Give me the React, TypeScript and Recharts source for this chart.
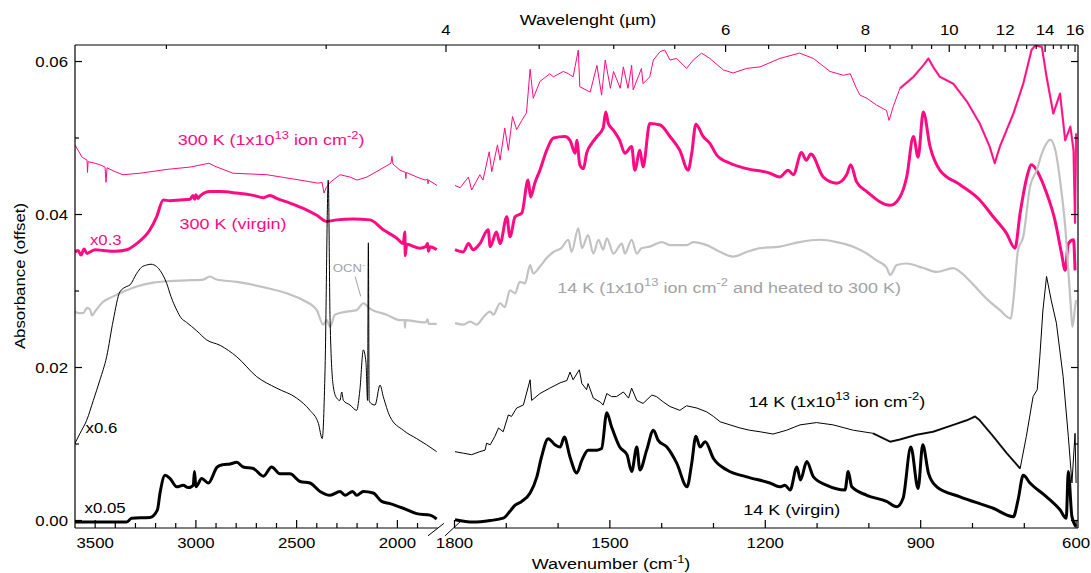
import React from "react";
import { LineChart, Line, XAxis, YAxis, ReferenceLine, ReferenceDot } from "recharts";

const FONT = "'Liberation Sans', Arial, Helvetica, sans-serif";
const PINK = "#ff0a82";
const GRAY = "#c2c2c2";
const GRAY_TEXT = "#a3a3a3";
const INK = "#000";
const SX = 1.2; // the original lettering is set wide

const W = 1091;
const H = 573;
const PLOT = { left: 75, right: 1078, top: 45, bottom: 528 };

const Y_DOMAIN = [-0.00098, 0.06216];
const L_DOMAIN = [-1378, 3600]; // left panel, 3600-1800 cm-1
const R_DOMAIN = [596.3, 2532.6]; // right panel, 1800-600 cm-1
const TOP_DOMAIN = [616.2, 3605.8];

// ticks
const Y_TICKS = [0, 0.01, 0.02, 0.03, 0.04, 0.05, 0.06];
const Y_LABELS = [0, 0.02, 0.04, 0.06];
const L_TICKS = [3500, 3400, 3300, 3200, 3100, 3000, 2900, 2800, 2700, 2600, 2500, 2400, 2300, 2200, 2100, 2000, 1900];
const L_LABELS = [3500, 3000, 2500, 2000];
const R_TICKS = [1800, 1700, 1600, 1500, 1400, 1300, 1200, 1100, 1000, 900, 800, 700, 600];
const R_LABELS = [1800, 1500, 1200, 900, 600];
const WAVELENGTHS = [3, 3.5, 4, 4.5, 5, 5.5, 6, 6.5, 7, 7.5, 8, 8.5, 9, 9.5, 10, 10.5, 11, 11.5, 12, 12.5, 13, 13.5, 14, 14.5, 15, 15.5, 16];
const WL_LABELS = [4, 6, 8, 10, 12, 14, 16];

// spectra: [wavenumber cm-1, absorbance offset]
const PINK_IRR_L = [
  [3600, 0.0491], [3585, 0.0484], [3565, 0.0475], [3540, 0.0471], [3538, 0.0455], [3535, 0.0469], [3500, 0.0467],
  [3476, 0.0465], [3451, 0.0462], [3446, 0.0442], [3441, 0.0461], [3401, 0.0456], [3362, 0.0452], [3277, 0.0454],
  [3143, 0.0459], [3029, 0.0462], [2935, 0.0467], [2905, 0.0463], [2816, 0.0454], [2647, 0.0452], [2483, 0.0445],
  [2394, 0.0441], [2374, 0.0442], [2364, 0.0428], [2354, 0.0435], [2334, 0.0442], [2285, 0.0452], [2235, 0.0449],
  [2200, 0.0445], [2151, 0.0449], [2071, 0.0461], [2032, 0.0467], [2027, 0.0476], [2022, 0.0466], [1987, 0.0458],
  [1960, 0.0455], [1958, 0.0447], [1956, 0.0455], [1903, 0.0449], [1863, 0.0445], [1850, 0.0446], [1848, 0.044],
  [1846, 0.0445], [1803, 0.0438],
];
const PINK_IRR_R = [
  [1799, 0.0438], [1789, 0.0435], [1773, 0.0449], [1767, 0.0432], [1751, 0.0452], [1745, 0.0445], [1733, 0.0482],
  [1728, 0.0456], [1717, 0.0491], [1712, 0.0471], [1703, 0.0513], [1696, 0.0484], [1688, 0.0528], [1680, 0.0511],
  [1670, 0.0523], [1661, 0.0533], [1654, 0.059], [1648, 0.0552], [1635, 0.0574], [1616, 0.0584], [1609, 0.058],
  [1590, 0.0587], [1580, 0.0584], [1571, 0.058], [1561, 0.0615], [1558, 0.0567], [1538, 0.056], [1525, 0.0595],
  [1516, 0.0556], [1509, 0.0602], [1499, 0.0565], [1493, 0.0587], [1480, 0.0565], [1474, 0.0593], [1465, 0.0565],
  [1458, 0.0595], [1455, 0.0563], [1439, 0.0591], [1436, 0.0571], [1423, 0.058], [1416, 0.0602], [1403, 0.0613],
  [1394, 0.0615], [1384, 0.0602], [1371, 0.0604], [1352, 0.0591], [1339, 0.0602], [1323, 0.0611], [1307, 0.0604],
  [1281, 0.0589], [1262, 0.0585], [1236, 0.0591], [1210, 0.0593], [1172, 0.0604], [1134, 0.0611], [1107, 0.0604],
  [1075, 0.0587], [1049, 0.0582], [1036, 0.0584], [1024, 0.0565], [1017, 0.0556], [1004, 0.0552], [985, 0.0543],
  [966, 0.0536], [961, 0.0523], [953, 0.0541], [940, 0.0565], [914, 0.058], [895, 0.0595], [885, 0.0604],
  [876, 0.0593], [863, 0.058], [837, 0.0571], [811, 0.0548], [786, 0.0519], [767, 0.0489], [757, 0.0467],
  [747, 0.0489], [721, 0.0532], [702, 0.0571], [686, 0.0615], [679, 0.0621], [666, 0.0619], [657, 0.058],
  [644, 0.0532], [631, 0.0558], [621, 0.0497], [611, 0.0515], [605, 0.0484], [602, 0.0389], [600, 0.0506],
];

const PINK_VIR_L = [
  [3600, 0.0351], [3585, 0.0353], [3570, 0.0347], [3555, 0.0355], [3540, 0.0349], [3526, 0.0351], [3500, 0.0354],
  [3460, 0.0353], [3400, 0.0352], [3343, 0.0354], [3294, 0.0362], [3228, 0.038], [3195, 0.0397], [3162, 0.0419],
  [3129, 0.0418], [3079, 0.0419], [3029, 0.042], [3014, 0.0425], [3006, 0.042], [3000, 0.0426], [2990, 0.0421],
  [2980, 0.0424], [2930, 0.043], [2880, 0.043], [2797, 0.0428], [2715, 0.0425], [2665, 0.0422], [2632, 0.0425],
  [2599, 0.0421], [2533, 0.0415], [2467, 0.0408], [2400, 0.0399], [2351, 0.0391], [2301, 0.0393], [2219, 0.0394],
  [2136, 0.0393], [2070, 0.038], [2003, 0.0369], [1971, 0.0362], [1963, 0.0377], [1961, 0.0346], [1954, 0.0361],
  [1888, 0.0356], [1860, 0.0358], [1850, 0.0362], [1846, 0.0352], [1838, 0.0358], [1805, 0.0354],
];
const PINK_VIR_R = [
  [1799, 0.0354], [1783, 0.0351], [1773, 0.0362], [1764, 0.0354], [1751, 0.0362], [1735, 0.038], [1731, 0.0358],
  [1719, 0.0377], [1712, 0.0362], [1699, 0.0397], [1693, 0.0371], [1683, 0.0397], [1670, 0.0402], [1658, 0.0445],
  [1653, 0.0423], [1645, 0.0441], [1635, 0.0458], [1622, 0.0484], [1609, 0.05], [1587, 0.0502], [1577, 0.0497],
  [1567, 0.048], [1564, 0.0497], [1558, 0.0465], [1551, 0.046], [1545, 0.048], [1535, 0.0493], [1525, 0.0502],
  [1513, 0.0513], [1508, 0.0534], [1503, 0.0519], [1493, 0.051], [1481, 0.0497], [1471, 0.048], [1458, 0.0489],
  [1452, 0.0458], [1442, 0.0484], [1436, 0.0462], [1423, 0.0519], [1403, 0.0517], [1384, 0.0502], [1365, 0.0484],
  [1349, 0.0458], [1342, 0.048], [1334, 0.0518], [1320, 0.0502], [1307, 0.0493], [1294, 0.0478], [1268, 0.0467],
  [1236, 0.046], [1191, 0.0454], [1172, 0.0449], [1156, 0.0458], [1146, 0.0452], [1130, 0.0481], [1121, 0.0471],
  [1112, 0.0479], [1088, 0.0449], [1062, 0.0441], [1043, 0.0452], [1035, 0.0465], [1024, 0.0443], [1004, 0.043],
  [959, 0.0412], [940, 0.0423], [927, 0.0449], [914, 0.0502], [905, 0.0475], [895, 0.0534], [882, 0.0489],
  [863, 0.0458], [824, 0.0439], [786, 0.0419], [760, 0.0397], [734, 0.0375], [718, 0.0356], [708, 0.0402],
  [695, 0.0449], [686, 0.0465], [673, 0.0454], [657, 0.0428], [641, 0.0393], [628, 0.0349], [621, 0.0327],
  [615, 0.0362], [605, 0.0367], [602, 0.0327],
];

const GRAY_L = [
  [3600, 0.0273], [3580, 0.0271], [3559, 0.0271], [3540, 0.0278], [3526, 0.0276], [3515, 0.0268], [3501, 0.0273],
  [3460, 0.0286], [3410, 0.0293], [3360, 0.0299], [3294, 0.0306], [3211, 0.0311], [3129, 0.0313], [3046, 0.0314],
  [2963, 0.0315], [2930, 0.0319], [2897, 0.0315], [2797, 0.0312], [2715, 0.0308], [2632, 0.0303], [2549, 0.0297],
  [2467, 0.0288], [2400, 0.0275], [2368, 0.0256], [2351, 0.0262], [2334, 0.0253], [2310, 0.0269], [2252, 0.0273],
  [2202, 0.0275], [2169, 0.0284], [2136, 0.0277], [2053, 0.0269], [1987, 0.0262], [1964, 0.0262], [1962, 0.0252],
  [1960, 0.0262], [1904, 0.026], [1860, 0.0259], [1850, 0.0263], [1845, 0.0257], [1805, 0.0257],
];
const GRAY_R = [
  [1799, 0.0258], [1783, 0.0256], [1770, 0.026], [1757, 0.0256], [1744, 0.0266], [1731, 0.0273], [1725, 0.0269],
  [1712, 0.0284], [1703, 0.0279], [1693, 0.0301], [1683, 0.0297], [1674, 0.0312], [1664, 0.031], [1654, 0.0334],
  [1648, 0.0323], [1635, 0.0332], [1622, 0.0343], [1609, 0.0351], [1594, 0.0356], [1580, 0.0367], [1574, 0.0351],
  [1561, 0.0382], [1554, 0.0356], [1542, 0.0373], [1532, 0.0349], [1522, 0.0367], [1513, 0.0354], [1506, 0.0369],
  [1493, 0.0349], [1477, 0.0362], [1471, 0.0349], [1458, 0.0367], [1448, 0.0349], [1439, 0.0356], [1423, 0.0358],
  [1400, 0.0364], [1384, 0.036], [1352, 0.036], [1339, 0.0364], [1313, 0.036], [1287, 0.0351], [1262, 0.0345],
  [1236, 0.0351], [1210, 0.0356], [1172, 0.0358], [1134, 0.0364], [1095, 0.0367], [1062, 0.0364], [1030, 0.0358],
  [1004, 0.0349], [985, 0.034], [966, 0.0331], [959, 0.0321], [946, 0.0334], [927, 0.0336], [895, 0.033],
  [869, 0.0325], [837, 0.033], [824, 0.0325], [798, 0.0308], [773, 0.029], [747, 0.0275], [726, 0.0264],
  [721, 0.0288], [712, 0.0354], [702, 0.0371], [689, 0.0436], [676, 0.0458], [666, 0.048], [657, 0.0493],
  [650, 0.0498], [640, 0.0484], [631, 0.0445], [621, 0.0384], [615, 0.0327], [611, 0.0288], [607, 0.0253],
  [602, 0.0279], [600, 0.0288],
];

const BLK_IRR_L = [
  [3600, 0.0101], [3575, 0.0114], [3542, 0.0131], [3509, 0.0157], [3476, 0.0184], [3443, 0.0214], [3410, 0.0262],
  [3377, 0.0299], [3343, 0.0306], [3327, 0.0308], [3294, 0.0323], [3270, 0.0331], [3244, 0.0334], [3223, 0.0335],
  [3195, 0.0332], [3173, 0.0325], [3145, 0.031], [3124, 0.0293], [3095, 0.0275], [3074, 0.0265], [3046, 0.0259],
  [2996, 0.0248], [2946, 0.0236], [2880, 0.0229], [2797, 0.0214], [2698, 0.0188], [2599, 0.0173], [2500, 0.016],
  [2434, 0.0144], [2392, 0.0127], [2373, 0.0107], [2359, 0.0197], [2343, 0.0445], [2334, 0.0262], [2318, 0.0175],
  [2301, 0.016], [2285, 0.0157], [2276, 0.0168], [2268, 0.0157], [2235, 0.0151], [2202, 0.0144], [2186, 0.0171],
  [2169, 0.0223], [2156, 0.0207], [2148, 0.0157], [2144, 0.0363], [2140, 0.0157], [2131, 0.0153], [2111, 0.0151],
  [2086, 0.0177], [2070, 0.0162], [2037, 0.0136], [1971, 0.0118], [1904, 0.0107], [1855, 0.0099], [1805, 0.009],
];
const BLK_IRR_R = [
  [1799, 0.009], [1783, 0.0088], [1767, 0.0086], [1751, 0.009], [1741, 0.0092], [1738, 0.0101], [1731, 0.0099],
  [1722, 0.011], [1715, 0.0121], [1706, 0.0116], [1696, 0.0138], [1690, 0.0136], [1680, 0.0147], [1667, 0.0151],
  [1654, 0.0184], [1651, 0.0157], [1635, 0.0166], [1616, 0.0173], [1596, 0.018], [1583, 0.0183], [1577, 0.0194],
  [1571, 0.0184], [1559, 0.0197], [1554, 0.0179], [1545, 0.0171], [1542, 0.0179], [1532, 0.016], [1519, 0.0155],
  [1513, 0.0151], [1506, 0.0166], [1497, 0.0162], [1487, 0.0162], [1474, 0.0168], [1464, 0.016], [1458, 0.0173],
  [1448, 0.0157], [1436, 0.0153], [1419, 0.0164], [1410, 0.0162], [1397, 0.0155], [1384, 0.0149], [1365, 0.0144],
  [1352, 0.015], [1332, 0.0147], [1313, 0.0142], [1300, 0.0136], [1287, 0.0129], [1268, 0.0125], [1249, 0.0121],
  [1230, 0.0118], [1210, 0.0116], [1185, 0.0113], [1159, 0.0118], [1133, 0.0125], [1101, 0.0128], [1069, 0.0125],
  [1030, 0.0118], [992, 0.0114], [959, 0.0103], [940, 0.0106], [908, 0.0112], [876, 0.0116], [837, 0.0125],
  [811, 0.0131], [795, 0.0136], [786, 0.0131], [760, 0.011], [734, 0.0088], [708, 0.0068], [696, 0.011],
  [683, 0.0162], [675, 0.0171], [670, 0.0214], [664, 0.0275], [657, 0.0319], [648, 0.0288], [638, 0.0258],
  [625, 0.0188], [615, 0.011], [608, 0.0049], [602, 0.0114], [600, 0.0049],
];

const BLK_VIR_L = [
  [3600, -0.0002], [3343, -0.0002], [3319, 0.0003], [3228, 0.0004], [3191, 0.0014], [3178, 0.0036], [3153, 0.0059],
  [3129, 0.0055], [3095, 0.0044], [3063, 0.0046], [3038, 0.0043], [3013, 0.0046], [3007, 0.0064], [3000, 0.0044],
  [2971, 0.0055], [2938, 0.0049], [2894, 0.007], [2864, 0.0073], [2831, 0.0074], [2797, 0.0076], [2765, 0.007],
  [2715, 0.0068], [2665, 0.0058], [2624, 0.007], [2583, 0.0061], [2533, 0.0061], [2483, 0.0051], [2434, 0.0049],
  [2384, 0.0038], [2334, 0.0033], [2285, 0.0038], [2260, 0.0033], [2222, 0.0038], [2202, 0.0033], [2169, 0.0038],
  [2120, 0.0036], [2078, 0.0025], [2037, 0.0022], [1971, 0.0016], [1904, 0.0009], [1838, 0.0007], [1805, 0.0002],
];
const BLK_VIR_R = [
  [1799, 0.0001], [1764, -0.0002], [1731, 0.0], [1706, 0.0003], [1693, 0.0012], [1683, 0.002], [1670, 0.0025],
  [1654, 0.0036], [1641, 0.0057], [1632, 0.0083], [1619, 0.0107], [1606, 0.0099], [1596, 0.0096], [1588, 0.0109],
  [1577, 0.0083], [1564, 0.0062], [1554, 0.0079], [1542, 0.0092], [1525, 0.0092], [1516, 0.0094], [1506, 0.0141],
  [1497, 0.0123], [1481, 0.0096], [1467, 0.0086], [1458, 0.0064], [1448, 0.0096], [1442, 0.0066], [1429, 0.0092],
  [1416, 0.0118], [1407, 0.0105], [1390, 0.0096], [1371, 0.0075], [1351, 0.0044], [1342, 0.0075], [1334, 0.011],
  [1326, 0.0096], [1316, 0.0103], [1300, 0.0081], [1274, 0.0066], [1236, 0.0057], [1191, 0.0049], [1172, 0.0044],
  [1162, 0.0046], [1152, 0.004], [1139, 0.007], [1132, 0.0053], [1120, 0.0077], [1107, 0.0057], [1081, 0.0046],
  [1046, 0.004], [1040, 0.0064], [1033, 0.0044], [1004, 0.0033], [966, 0.0025], [946, 0.0018], [934, 0.0029],
  [919, 0.0096], [905, 0.0042], [896, 0.0099], [885, 0.0062], [869, 0.0044], [824, 0.0031], [760, 0.0016],
  [721, 0.0005], [712, 0.0027], [702, 0.0059], [689, 0.0049], [657, 0.0031], [631, 0.0014], [619, 0.0003],
  [615, 0.0064], [608, 0.0005], [600, -0.0008],
];

// band: wavenumber range where the trace is a wide noisy band in the original
const SERIES = [
  { id: "pinkIrrL", axis: "L", pts: PINK_IRR_L, color: PINK, w: 1, curve: "linear" },
  { id: "pinkIrrR", axis: "R", pts: PINK_IRR_R, color: PINK, w: 1, curve: "linear", band: [600, 950], bandW: 2.2 },
  { id: "pinkVirL", axis: "L", pts: PINK_VIR_L, color: PINK, w: 3, curve: "monotoneX" },
  { id: "pinkVirR", axis: "R", pts: PINK_VIR_R, color: PINK, w: 3, curve: "monotoneX" },
  { id: "grayL", axis: "L", pts: GRAY_L, color: GRAY, w: 2.2, curve: "monotoneX" },
  { id: "grayR", axis: "R", pts: GRAY_R, color: GRAY, w: 2.2, curve: "monotoneX" },
  { id: "blkIrrL", axis: "L", pts: BLK_IRR_L, color: INK, w: 1, curve: "monotoneX" },
  { id: "blkIrrR", axis: "R", pts: BLK_IRR_R, color: INK, w: 1, curve: "linear", band: [700, 1000], bandW: 2 },
  { id: "blkVirL", axis: "L", pts: BLK_VIR_L, color: INK, w: 3, curve: "monotoneX" },
  { id: "blkVirR", axis: "R", pts: BLK_VIR_R, color: INK, w: 3, curve: "monotoneX" },
];

// curve labels: baseline centre in data units
const NOTES = [
  { axis: "L", nu: 2627, a: 0.0491, color: PINK, size: 15, parts: ["300 K  (1x10", "13", " ion cm", "-2", ")"] },
  { axis: "L", nu: 2816, a: 0.0381, color: PINK, size: 15, parts: ["300 K (virgin)"] },
  { axis: "L", nu: 3447, a: 0.036, color: PINK, size: 14, parts: ["x0.3"] },
  { axis: "L", nu: 2240, a: 0.0325, color: GRAY_TEXT, size: 11, parts: ["OCN", "-"] },
  { axis: "L", nu: 3469, a: 0.0114, color: INK, size: 14, parts: ["x0.6"] },
  { axis: "L", nu: 3451, a: 0.00094, color: INK, size: 14, parts: ["x0.05"] },
  { axis: "R", nu: 1270, a: 0.0298, color: GRAY_TEXT, size: 15, parts: ["14 K (1x10", "13", " ion cm", "-2", " and heated to 300 K)"] },
  { axis: "R", nu: 1062, a: 0.0149, color: INK, size: 15, parts: ["14 K (1x10", "13", " ion cm", "-2", ")"] },
  { axis: "R", nu: 1149, a: 0.0007, color: INK, size: 15, parts: ["14 K (virgin)"] },
];

const rows = (pts: number[][]) => pts.map(([nu, a]) => ({ nu, a }));

const WideText = ({ x, y, size = 14, fill = INK, anchor = "middle", rotate = 0, children }: any) => (
  <text
    transform={`translate(${x},${y}) rotate(${rotate}) scale(${SX},1)`}
    x={0}
    y={0}
    textAnchor={anchor}
    fontSize={size}
    fontFamily={FONT}
    fill={fill}
  >
    {children}
  </text>
);

// odd parts are superscripts
const Rich = ({ parts, size }: { parts: string[]; size: number }) => (
  <>
    {parts.map((t, i) => {
      const sup = i % 2 === 1;
      const dy = i === 0 ? 0 : sup ? -0.42 * size : 0.42 * size;
      return (
        <tspan key={i} dy={dy} fontSize={sup ? size * 0.72 : size}>
          {t}
        </tspan>
      );
    })}
  </>
);

const LeftTick = (p: any) => {
  const y = p.payload.coordinate;
  const v = p.payload.value;
  const major = Y_LABELS.includes(v);
  return (
    <g>
      <line x1={PLOT.left} x2={PLOT.left + (major ? 7 : 4)} y1={y} y2={y} stroke={INK} strokeWidth={1.2} />
      {major && (
        <WideText x={PLOT.left - 7} y={y + 5} anchor="end" size={14}>
          {v.toFixed(2)}
        </WideText>
      )}
    </g>
  );
};

const RightTick = (p: any) => {
  const y = p.payload.coordinate;
  const major = Y_LABELS.includes(p.payload.value);
  return <line x1={PLOT.right} x2={PLOT.right - (major ? 7 : 4)} y1={y} y2={y} stroke={INK} strokeWidth={1.2} />;
};

const bottomTick = (labels: number[]) => (p: any) => {
  const x = p.payload.coordinate;
  const major = labels.includes(p.payload.value);
  return (
    <g>
      <line x1={x} x2={x} y1={PLOT.bottom} y2={PLOT.bottom - (major ? 8 : 5)} stroke={INK} strokeWidth={1.2} />
      {major && (
        <WideText x={x} y={PLOT.bottom + 20} size={14}>
          {p.payload.value}
        </WideText>
      )}
    </g>
  );
};

const TopTick = (p: any) => {
  const x = p.payload.coordinate;
  const wl = Math.round((10000 / p.payload.value) * 10) / 10;
  const major = WL_LABELS.includes(wl);
  return (
    <g>
      <line x1={x} x2={x} y1={PLOT.top} y2={PLOT.top + (major ? 7 : 4)} stroke={INK} strokeWidth={1.2} />
      {major && (
        <WideText x={x} y={PLOT.top - 10} size={14}>
          {wl}
        </WideText>
      )}
    </g>
  );
};

export default function App() {
  const yMin = Y_DOMAIN[0];
  return (
    <div style={{ position: "absolute", left: 0, top: 0, width: W, height: H }}>
      <style>{`html, body { overflow: hidden; }`}</style>
      <LineChart width={W} height={H} margin={{ top: 8, right: 0, bottom: 0, left: 8 }}>
        <XAxis
          xAxisId="top"
          orientation="top"
          type="number"
          dataKey="nu"
          domain={TOP_DOMAIN}
          reversed
          allowDataOverflow
          height={37}
          ticks={WAVELENGTHS.map((w) => 10000 / w)}
          interval={0}
          tick={TopTick}
          tickLine={false}
          axisLine={{ stroke: INK, strokeWidth: 1.2 }}
          label={{
            content: () => (
              <WideText x={588} y={25} size={15}>
                Wavelenght (<tspan>µ</tspan>m)
              </WideText>
            ),
          }}
        />
        <XAxis
          xAxisId="L"
          orientation="bottom"
          type="number"
          dataKey="nu"
          domain={L_DOMAIN}
          reversed
          allowDataOverflow
          height={25}
          ticks={L_TICKS}
          interval={0}
          tick={bottomTick(L_LABELS)}
          tickLine={false}
          axisLine={false}
        />
        <XAxis
          xAxisId="R"
          orientation="bottom"
          type="number"
          dataKey="nu"
          domain={R_DOMAIN}
          reversed
          allowDataOverflow
          height={20}
          ticks={R_TICKS}
          interval={0}
          tick={bottomTick(R_LABELS)}
          tickLine={false}
          axisLine={false}
          label={{
            content: () => (
              <WideText x={611} y={569} size={15}>
                <Rich parts={["Wavenumber (cm", "-1", ")"]} size={15} />
              </WideText>
            ),
          }}
        />
        <YAxis
          yAxisId="a"
          orientation="left"
          type="number"
          domain={Y_DOMAIN}
          allowDataOverflow
          width={67}
          ticks={Y_TICKS}
          interval={0}
          tick={LeftTick}
          tickLine={false}
          axisLine={{ stroke: INK, strokeWidth: 1.2 }}
          label={{
            content: () => (
              <WideText x={25} y={276} size={14} rotate={-90}>
                Absorbance (offset)
              </WideText>
            ),
          }}
        />
        <YAxis
          yAxisId="b"
          orientation="right"
          type="number"
          domain={Y_DOMAIN}
          allowDataOverflow
          width={13}
          ticks={Y_TICKS}
          interval={0}
          tick={RightTick}
          tickLine={false}
          axisLine={{ stroke: INK, strokeWidth: 1.2 }}
        />

        {/* broken bottom axis */}
        <ReferenceLine xAxisId="L" yAxisId="a" segment={[{ x: 3600, y: yMin }, { x: 1800, y: yMin }]} stroke={INK} strokeWidth={1.2} ifOverflow="visible" />
        <ReferenceLine xAxisId="R" yAxisId="a" segment={[{ x: 1800, y: yMin }, { x: 596.3, y: yMin }]} stroke={INK} strokeWidth={1.2} ifOverflow="visible" />
        <ReferenceLine xAxisId="L" yAxisId="a" segment={[{ x: 1848, y: -0.002 }, { x: 1769, y: -0.00037 }]} stroke={INK} strokeWidth={1} ifOverflow="visible" />
        <ReferenceLine xAxisId="R" yAxisId="a" segment={[{ x: 1818, y: -0.002 }, { x: 1789, y: -0.00016 }]} stroke={INK} strokeWidth={1} ifOverflow="visible" />
        {/* OCN- pointer */}
        <ReferenceLine xAxisId="L" yAxisId="a" segment={[{ x: 2210, y: 0.0319 }, { x: 2182, y: 0.0293 }]} stroke={GRAY_TEXT} strokeWidth={1} />

        {SERIES.map((s) => (
          <Line
            key={s.id}
            xAxisId={s.axis}
            yAxisId="a"
            data={rows(s.pts)}
            dataKey="a"
            type={s.curve as any}
            stroke={s.color}
            strokeWidth={s.w}
            strokeLinejoin="round"
            dot={false}
            activeDot={false}
            isAnimationActive={false}
          />
        ))}
        {SERIES.filter((s) => s.band).map((s) => (
          <Line
            key={s.id + "-band"}
            xAxisId={s.axis}
            yAxisId="a"
            data={rows(s.pts.filter(([nu]) => nu >= s.band![0] && nu <= s.band![1]))}
            dataKey="a"
            type="linear"
            stroke={s.color}
            strokeWidth={s.bandW}
            strokeOpacity={0.85}
            strokeLinejoin="round"
            dot={false}
            activeDot={false}
            isAnimationActive={false}
          />
        ))}

        {NOTES.map((n, i) => (
          <ReferenceDot
            key={i}
            xAxisId={n.axis}
            yAxisId="a"
            x={n.nu}
            y={n.a}
            r={0}
            fill="none"
            stroke="none"
            ifOverflow="visible"
            label={{
              content: (p: any) => (
                <WideText x={p.viewBox.x} y={p.viewBox.y} size={n.size} fill={n.color}>
                  <Rich parts={n.parts} size={n.size} />
                </WideText>
              ),
            }}
          />
        ))}
      </LineChart>
    </div>
  );
}
